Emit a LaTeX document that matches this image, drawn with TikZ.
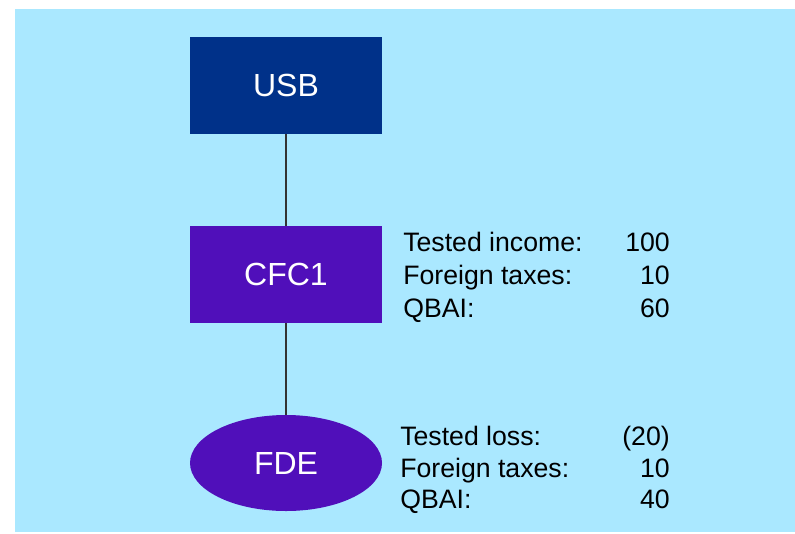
\documentclass[tikz,border=0pt]{standalone}
\usepackage{fontspec}
\setmainfont{Liberation Sans}
\usetikzlibrary{shapes.geometric}
\definecolor{skyback}{HTML}{AAE8FF}
\definecolor{usbblue}{HTML}{003189}
\definecolor{cfcpurple}{HTML}{500FBA}
\definecolor{linkgrey}{HTML}{333333}
\tikzset{
  entity/.style={fill=usbblue, draw=none, text=white, minimum width=144pt, minimum height=72.5pt,
    inner sep=0pt, font=\fontsize{24}{28}\selectfont},
  link/.style={draw=linkgrey, line width=1.6pt},
  info/.style={inner sep=0pt, font=\fontsize{20}{24}\selectfont, text=black},
}
\begin{document}
\begin{tikzpicture}[x=0.75pt,y=-0.75pt]
  % page and background panel
  \fill[white] (0,0) rectangle (795,533);
  \useasboundingbox (0,0) rectangle (795,533);
  \fill[skyback] (15,9) rectangle (795,532);

  % entities
  \node[entity] (usb) at (286,85.5) {USB};
  \node[entity, fill=cfcpurple] (cfc) at (286,274.5) {CFC1};
  \node[entity, ellipse, fill=cfcpurple, minimum width=144pt, minimum height=72pt] (fde) at (286,463) {FDE};

  % ownership links
  \draw[link] (usb.south) -- (cfc.north);
  \draw[link] (cfc.south) -- (fde.north);

  % CFC1 figures
  \node[info, anchor=base west] (ci1) at (403,251.5) {Tested income:};
  \node[info, anchor=base east] (cv1) at (670,251.5) {100};
  \node[info, anchor=base west] (ci2) at (403,284.5) {Foreign taxes:};
  \node[info, anchor=base east] (cv2) at (670,284.5) {10};
  \node[info, anchor=base west] (ci3) at (403,317) {QBAI:};
  \node[info, anchor=base east] (cv3) at (670,317) {60};

  % FDE figures
  \node[info, anchor=base west] (fi1) at (400,445) {Tested loss:};
  \node[info, anchor=base east] (fv1) at (670,445) {(20)};
  \node[info, anchor=base west] (fi2) at (400,477.5) {Foreign taxes:};
  \node[info, anchor=base east] (fv2) at (670,477.5) {10};
  \node[info, anchor=base west] (fi3) at (400,508.5) {QBAI:};
  \node[info, anchor=base east] (fv3) at (670,508.5) {40};
\end{tikzpicture}
\end{document}
